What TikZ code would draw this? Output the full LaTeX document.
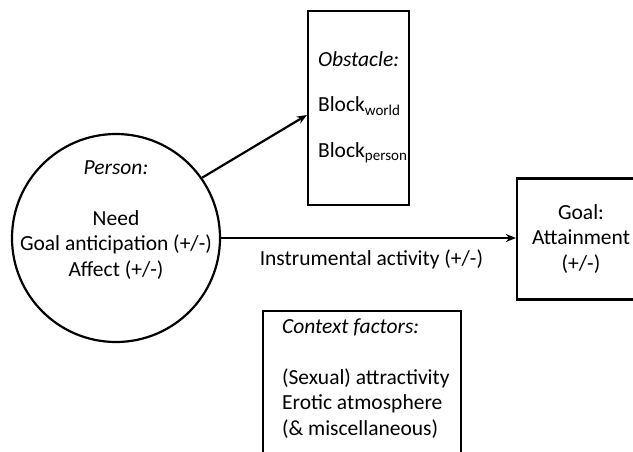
\documentclass[tikz,border=0pt]{standalone}
\usepackage{fontspec}
\setmainfont{Carlito}
\usetikzlibrary{arrows.meta}

\begin{document}
\begin{tikzpicture}[x=1pt, y=-1pt, line width=2.2pt,
	every node/.style={font=\fontsize{21.5}{25.5}\selectfont},
	box/.style={draw, inner sep=0pt},
	arr/.style={-{Stealth[length=10pt, width=8pt]}}]
	\clip (0,0) rectangle (633,451);
	\node[draw, circle, minimum size=208, inner sep=0pt] (person) at (116,238) {};
	\node[align=center] (persontext) at (116,220) {\textit{Person:}\\ \\Need\\Goal anticipation (+/-)\\Affect (+/-)};
	\node[box, minimum width=101, minimum height=194] (obstacle) at (358.5,108) {};
	\node[align=left, anchor=west, inner sep=0pt] (obstacletext) at (317,107) {\textit{Obstacle:}\\[20pt]Block\textsubscript{world}\\[20pt]Block\textsubscript{person}};
	\node[box, minimum width=128, minimum height=121, align=center] (goal) at (581,239) {Goal:\\Attainment\\(+/-)};
	\node[box, minimum width=198, minimum height=170] (context) at (362,396) {};
	\node[align=left, anchor=west, inner sep=0pt] (contexttext) at (281,378.5) {\textit{Context factors:}\\ \\(Sexual) attractivity\\Erotic atmosphere\\(\& miscellaneous)};
	\draw[arr] (person.35) -- ([yshift=-7pt]obstacle.west);
	\draw[arr] (person.east) -- (person.east -| goal.west) node[pos=0.51, below=11pt, inner sep=0pt] (activity) {Instrumental activity (+/-)};
\end{tikzpicture}
\end{document}
